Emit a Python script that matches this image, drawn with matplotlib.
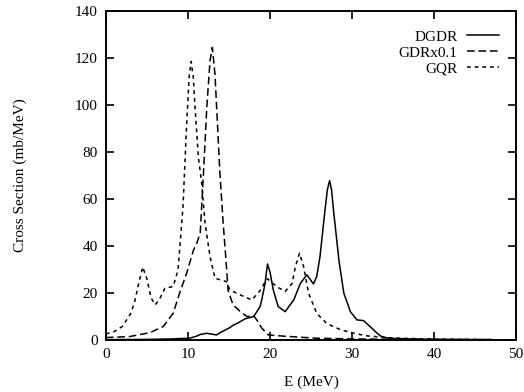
import numpy as np
import matplotlib.pyplot as plt

plt.rcParams['font.family'] = ['Liberation Serif', 'DejaVu Serif']

# DGDR (solid)
e_dgdr = [0, 5, 8, 10, 10.3, 11, 11.5, 12.3, 13.5, 13.9, 15.1, 15.5, 16.2, 17.0, 18.0, 18.4,
          18.8, 19.0, 19.4, 19.7, 20.0, 20.4, 21.0, 21.85, 22.9, 23.7, 24.5, 25.3, 25.7, 26.1,
          26.7, 27.0, 27.27, 27.5, 27.75, 28.4, 29.0, 29.8, 30.6, 31.4, 32.2, 33.0, 33.5,
          34, 35, 37, 40, 47]
s_dgdr = [0.1, 0.2, 0.4, 0.7, 0.8, 1.5, 2.3, 2.8, 2.1, 3.0, 5.2, 6.2, 7.4, 9.0, 9.9, 12.0,
          14.2, 17, 24.0, 32.3, 29.0, 21.3, 14.2, 12.0, 17.0, 24.0, 27.7, 23.8, 27, 35.5,
          55, 64, 67.8, 64, 55, 34, 19.9, 12.0, 8.5, 8.2, 5.7, 3.0, 1.6,
          1.0, 0.6, 0.4, 0.2, 0.1]

# GDR x0.1 (long dash)
e_gdr = [0, 2.9, 5.4, 7.0, 8.2, 9.0, 9.85, 10.66, 11.07, 11.5, 11.68, 11.9, 12.3, 12.7,
         12.98, 13.3, 13.6, 13.9, 14.3, 14.7, 14.9, 15.5, 16.4, 17.2, 18.0, 18.4, 19.0,
         19.8, 21.6, 25.7, 30, 35, 40, 47]
s_gdr = [1.0, 1.4, 3.1, 5.7, 11.3, 20, 28.4, 38, 41, 45.5, 56.7, 71, 99, 119,
         124.5, 113, 92, 71, 49.6, 31, 21, 14.9, 12, 9.9, 10.3, 8.5, 5.0,
         2.1, 1.6, 0.7, 0.4, 0.25, 0.15, 0.1]

# GQR (short dash)
e_gqr = [0, 1, 2, 3, 3.5, 4, 4.5, 5, 5.5, 6.0, 6.5, 7.2, 8.2, 8.8, 9.4, 9.85, 10.15, 10.4,
         10.65, 10.87, 11.27, 11.68, 12.09, 12.7, 13.3, 14.7, 15.1, 16.4, 17.8, 18.8, 19.3,
         19.7, 20.8, 21.85, 22.7, 23.1, 23.6, 24.1, 24.7, 25.7, 26.9, 28.6, 30.2, 31.8,
         35, 40, 47]
s_gqr = [2.5, 3.5, 5.7, 11, 16, 24, 31, 26, 18, 14.9, 17, 22, 22.7, 29.8, 56.7, 92, 112, 118.5,
         112, 99, 78, 66.7, 49.6, 35.4, 26.2, 24.8, 21.3, 19.1, 17, 21, 24,
         26, 22.7, 20.6, 24, 31.2, 36.9, 31.2, 19.9, 11.3, 7.0, 4.3, 2.8, 1.7,
         0.8, 0.3, 0.1]

fig = plt.figure(figsize=(5.24, 3.92), dpi=100)
ax = fig.add_axes([0.202, 0.133, 0.783, 0.839])

ax.plot(e_dgdr, s_dgdr, color='black', lw=1.1, label='DGDR')
ax.plot(e_gdr, s_gdr, color='black', lw=1.1, dashes=(5, 2.5), label='GDRx0.1')
ax.plot(e_gqr, s_gqr, color='black', lw=1.1, dashes=(2.5, 2.5), label='GQR')

ax.set_xlim(0, 50)
ax.set_ylim(0, 140)
ax.set_xticks(np.arange(0, 51, 10))
ax.set_yticks(np.arange(0, 141, 20))
ax.tick_params(direction='in', top=True, right=True, length=6, width=1.2, labelsize=11, pad=6)
for sp in ax.spines.values():
    sp.set_linewidth(1.4)

ax.set_xlabel('E (MeV)', fontsize=11, labelpad=10)
ax.set_ylabel('Cross Section (mb/MeV)', fontsize=11, labelpad=34)

ax.legend(loc='upper right', frameon=False, markerfirst=False, fontsize=11,
          handlelength=2.1, handletextpad=0.6, labelspacing=0.15,
          borderaxespad=0.0, bbox_to_anchor=(0.973, 0.961))

fig.savefig('out.png', dpi=100)
